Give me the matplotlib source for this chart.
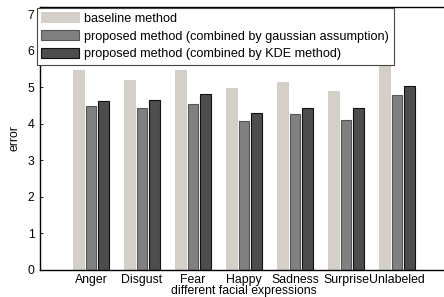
import matplotlib
matplotlib.use("Agg")
import matplotlib.pyplot as plt
import numpy as np

plt.rcParams['font.family'] = ['Liberation Sans', 'DejaVu Sans']

categories = ["Anger", "Disgust", "Fear", "Happy", "Sadness", "Surprise", "Unlabeled"]
baseline = [5.48, 5.20, 5.48, 4.99, 5.16, 4.90, 5.77]
gaussian = [4.49, 4.44, 4.54, 4.08, 4.27, 4.11, 4.79]
kde = [4.63, 4.65, 4.81, 4.29, 4.44, 4.44, 5.05]
series_labels = ["baseline method",
                 "proposed method (combined by gaussian assumption)",
                 "proposed method (combined by KDE method)"]
yticks = [0, 1, 2, 3, 4, 5, 6, 7]

fs = 8.8
fig = plt.figure(figsize=(4.44, 2.97), dpi=100)
ax = fig.add_axes([40/444, 27/297, 408/444, 263/297])

x = np.arange(1, len(categories) + 1)
w = 0.2
off = 0.245
ax.bar(x - off, baseline, w, color='#d4d0c8', edgecolor='#cfcbc3', linewidth=0.6, label=series_labels[0])
ax.bar(x, gaussian, w, color='#808080', edgecolor='#555555', linewidth=0.8, label=series_labels[1])
ax.bar(x + off, kde, w, color='#4d4d4d', edgecolor='#111111', linewidth=0.8, label=series_labels[2])

ax.set_xlim(0, 8)
ax.set_ylim(0, 7.2)
ax.set_xticks(x)
ax.set_xticklabels(categories)
ax.set_yticks(yticks)
ax.tick_params(axis='both', direction='in', length=2, labelsize=fs, pad=4, width=0.6)
ax.tick_params(axis='x', pad=3, length=0)
for s in ['left', 'bottom', 'top']:
    ax.spines[s].set_linewidth(1.0)
ax.spines['right'].set_visible(False)

ax.set_xlabel("different facial expressions", fontsize=fs, labelpad=-1)
ax.set_ylabel("error", fontsize=fs, labelpad=5)

leg = fig.legend(loc='upper left', bbox_to_anchor=(37/444, 1 - 8/297),
                 fontsize=9.1, handlelength=3.0, handleheight=0.8,
                 fancybox=False, framealpha=1, edgecolor='#444444',
                 borderpad=0.35, labelspacing=0.45, handletextpad=0.4,
                 borderaxespad=0)
leg.get_frame().set_linewidth(0.8)

fig.savefig("out.png", dpi=100)
